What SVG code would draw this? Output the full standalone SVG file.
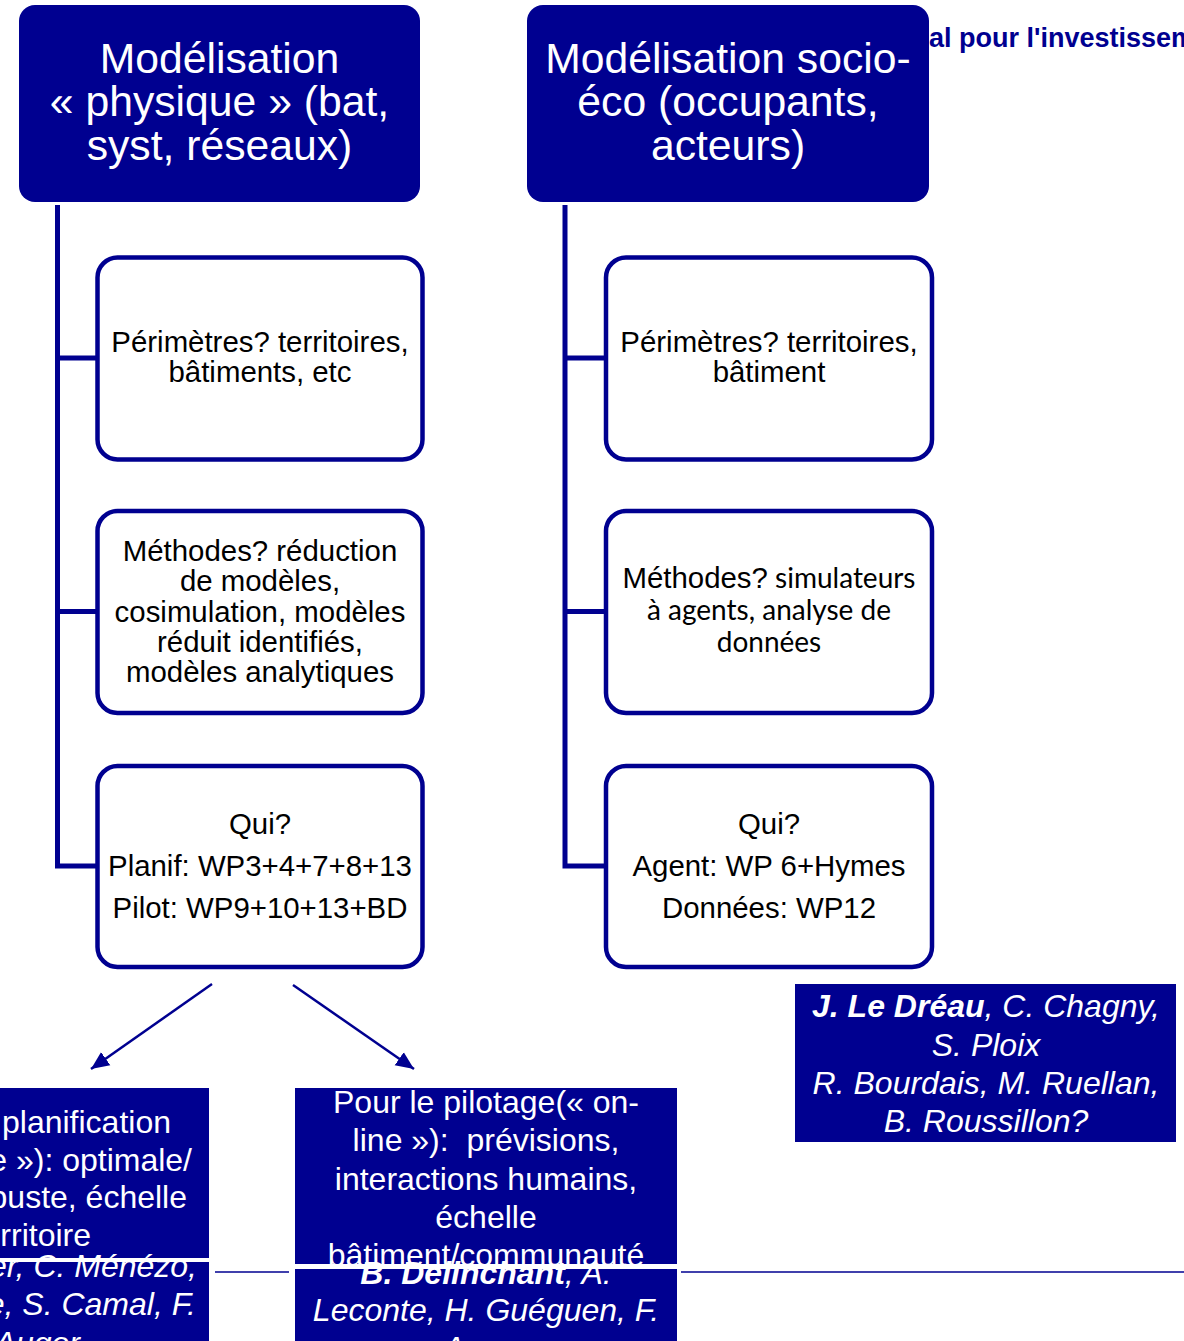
<svg xmlns="http://www.w3.org/2000/svg" width="1184" height="1341" viewBox="0 0 1184 1341">
<defs>
<style>
.hdr{fill:#000090}
.hdrt{font-family:"Liberation Sans",Arial,sans-serif;font-size:42.7px;fill:#fff;text-anchor:middle}
.box{fill:#fff;stroke:#000090;stroke-width:4.5}
.bt{font-family:"Liberation Sans",Arial,sans-serif;font-size:29.4px;fill:#000;text-anchor:middle}
.cal{font-family:Lato,"Open Sans",sans-serif;font-size:28px}
.trunk{fill:none;stroke:#000090;stroke-width:5}
.arr{fill:none;stroke:#000090;stroke-width:2.5}
.blk{fill:#000090}
.wt{font-family:"Liberation Sans",Arial,sans-serif;font-size:32px;fill:#fff}
.it{font-style:italic}
.gap{fill:#fff}
.hl{stroke:#000090;stroke-width:1.5}
</style>
<marker id="ah" markerUnits="userSpaceOnUse" markerWidth="20" markerHeight="20" viewBox="0 0 20 20" refX="18" refY="10" orient="auto">
<path d="M0,2 L18,10 L0,18 z" fill="#000090"/>
</marker>
</defs>

<text x="929" y="47" font-family="Liberation Sans,Arial,sans-serif" font-size="27" font-weight="bold" fill="#000090">al pour l'investissement</text>

<g id="connectors">
<path class="trunk" d="M57.5,205 V866 H97 M57.5,358 H97 M57.5,611.5 H97"/>
<path class="trunk" d="M565,205 V866 H606 M565,358 H606 M565,611.5 H606"/>
<line class="arr" x1="212" y1="984" x2="91" y2="1069" marker-end="url(#ah)"/>
<line class="arr" x1="293" y1="985" x2="414" y2="1069" marker-end="url(#ah)"/>
<line class="hl" x1="215" y1="1272" x2="289" y2="1272"/>
<line class="hl" x1="681" y1="1272" x2="1184" y2="1272"/>
</g>

<g id="hdr-physique">
<rect class="hdr" x="19" y="5" width="401" height="197" rx="16"/>
<text class="hdrt" x="219.5" y="73">Modélisation</text>
<text class="hdrt" x="219.5" y="116">« physique » (bat,</text>
<text class="hdrt" x="219.5" y="160">syst, réseaux)</text>
</g>

<g id="hdr-socio">
<rect class="hdr" x="527" y="5" width="402" height="197" rx="16"/>
<text class="hdrt" x="728" y="73">Modélisation socio-</text>
<text class="hdrt" x="728" y="116">éco (occupants,</text>
<text class="hdrt" x="728" y="160">acteurs)</text>
</g>

<g id="perimetres-phys">
<rect class="box" x="97.5" y="257.5" width="325" height="202" rx="20"/>
<text class="bt" x="260" y="352">Périmètres? territoires,</text>
<text class="bt" x="260" y="382">bâtiments, etc</text>
</g>

<g id="methodes-phys">
<rect class="box" x="97.5" y="511" width="325" height="202" rx="20"/>
<text class="bt" x="260" y="561">Méthodes? réduction</text>
<text class="bt" x="260" y="591">de modèles,</text>
<text class="bt" x="260" y="622">cosimulation, modèles</text>
<text class="bt" x="260" y="652">réduit identifiés,</text>
<text class="bt" x="260" y="682">modèles analytiques</text>
</g>

<g id="qui-phys">
<rect class="box" x="97.5" y="766" width="325" height="201" rx="20"/>
<text class="bt" x="260" y="834">Qui?</text>
<text class="bt" x="260" y="876">Planif: WP3+4+7+8+13</text>
<text class="bt" x="260" y="918">Pilot: WP9+10+13+BD</text>
</g>

<g id="perimetres-socio">
<rect class="box" x="606" y="257.5" width="326" height="202" rx="20"/>
<text class="bt" x="769" y="352">Périmètres? territoires,</text>
<text class="bt" x="769" y="382">bâtiment</text>
</g>

<g id="methodes-socio">
<rect class="box" x="606" y="511" width="326" height="202" rx="20"/>
<text class="bt" x="769" y="588">Méthodes?<tspan class="cal"> simulateurs</tspan></text>
<text class="bt cal" x="769" y="620">à agents, analyse de</text>
<text class="bt cal" x="769" y="652">données</text>
</g>

<g id="qui-socio">
<rect class="box" x="606" y="766" width="326" height="201" rx="20"/>
<text class="bt" x="769" y="834">Qui?</text>
<text class="bt" x="769" y="876">Agent: WP 6+Hymes</text>
<text class="bt" x="769" y="918">Données: WP12</text>
</g>

<g id="noms-socio">
<rect class="blk" x="795" y="984" width="381" height="158"/>
<text class="wt" x="986" y="1017" text-anchor="middle" font-style="italic"><tspan font-weight="bold">J. Le Dréau</tspan>, C. Chagny,</text>
<text class="wt it" x="986" y="1056" text-anchor="middle">S. Ploix</text>
<text class="wt it" x="986" y="1094" text-anchor="middle">R. Bourdais, M. Ruellan,</text>
<text class="wt it" x="986" y="1132" text-anchor="middle">B. Roussillon?</text>
</g>

<g id="planification">
<rect class="blk" x="-10" y="1262" width="219" height="90"/>
<rect class="blk" x="-10" y="1088" width="219" height="170"/>
<rect class="gap" x="-10" y="1258" width="219" height="3"/>
<text class="wt" x="171" y="1133" text-anchor="end">la planification</text>
<text class="wt" x="192" y="1171" text-anchor="end">line »): optimale/</text>
<text class="wt" x="187" y="1208" text-anchor="end">robuste, échelle</text>
<text class="wt" x="91" y="1246" text-anchor="end">territoire</text>
<text class="wt it" x="197" y="1277" text-anchor="end">er, C. Ménézo,</text>
<text class="wt it" x="196" y="1315" text-anchor="end">e, S. Camal, F.</text>
<text class="wt it" x="80" y="1354" text-anchor="end">Auger</text>
</g>

<g id="pilotage">
<rect class="blk" x="295" y="1269" width="382" height="90"/>
<rect class="blk" x="295" y="1088" width="382" height="176"/>
<rect class="gap" x="295" y="1264" width="382" height="4"/>
<text class="wt" x="486" y="1113" text-anchor="middle">Pour le pilotage(« on-</text>
<text class="wt" x="486" y="1151" text-anchor="middle">line »):&#160; prévisions,</text>
<text class="wt" x="486" y="1190" text-anchor="middle">interactions humains,</text>
<text class="wt" x="486" y="1228" text-anchor="middle">échelle</text>
<text class="wt" x="486" y="1266" text-anchor="middle">bâtiment/communauté</text>
<text class="wt" x="486" y="1284" text-anchor="middle" font-style="italic"><tspan font-weight="bold">B. Delinchant</tspan>, A.</text>
<text class="wt it" x="486" y="1321" text-anchor="middle">Leconte, H. Guéguen, F.</text>
<text class="wt it" x="486" y="1359" text-anchor="middle">Auger</text>
</g>
</svg>
